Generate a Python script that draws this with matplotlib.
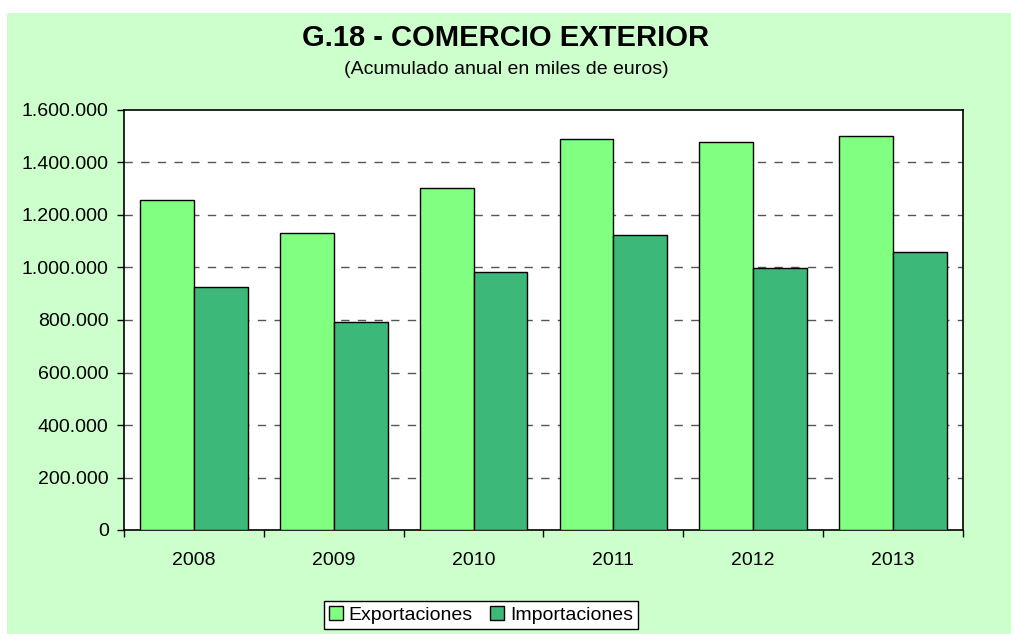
import matplotlib
matplotlib.use('Agg')
import matplotlib.pyplot as plt
from matplotlib.patches import Rectangle
from matplotlib.ticker import FuncFormatter, FixedLocator
import numpy as np

plt.rcParams['font.family'] = ['Liberation Sans', 'DejaVu Sans']

# Data (miles de euros)
years = ['2008', '2009', '2010', '2011', '2012', '2013']
exportaciones = [1257000, 1131000, 1303000, 1491000, 1477000, 1501000]
importaciones = [926000, 792000, 983000, 1124000, 999000, 1058000]

fig = plt.figure(figsize=(10.12, 6.34), dpi=100)
fig.patch.set_facecolor('white')

# Light green panel background
fig.patches.append(Rectangle((7 / 1012, 0), 1 - 7 / 1012, 1 - 13 / 634,
                             transform=fig.transFigure, facecolor='#CCFFCC',
                             edgecolor='none', zorder=-10))

ax = fig.add_axes([124 / 1012, 104 / 634, 839 / 1012, 420 / 634])
ax.set_facecolor('white')

x = np.arange(len(years)) + 0.5
w = 0.385
ax.bar(x - w / 2, exportaciones, width=w, color='#80FF80', edgecolor='black',
       linewidth=1, label='Exportaciones', zorder=3)
ax.bar(x + w / 2, importaciones, width=w, color='#3CB878', edgecolor='black',
       linewidth=1, label='Importaciones', zorder=3)

ax.set_xlim(0, len(years))
ax.set_ylim(0, 1600000)

# Y axis
ax.set_yticks(np.arange(0, 1600001, 200000))
ax.yaxis.set_major_formatter(FuncFormatter(lambda v, p: f'{int(v):,}'.replace(',', '.')))
ax.tick_params(axis='y', direction='out', length=5, width=1, labelsize=14, pad=6)

# X axis: ticks at boundaries, labels at centers
ax.xaxis.set_major_locator(FixedLocator(np.arange(0, len(years) + 1)))
ax.xaxis.set_major_formatter(FuncFormatter(lambda v, p: ''))
ax.set_xticks(x, minor=True)
ax.set_xticklabels(years, minor=True)
ax.tick_params(axis='x', which='major', direction='out', length=5, width=1)
ax.tick_params(axis='x', which='minor', length=0, labelsize=14, pad=16)

# Grid
for v in np.arange(200000, 1600000, 200000):
    ax.axhline(v, color='#555555', linewidth=1, linestyle=(0, (6, 6)), zorder=1)

for spine in ax.spines.values():
    spine.set_color('black')
    spine.set_linewidth(1.2)

# Titles
fig.text(0.5, 1 - 38 / 634, 'G.18 - COMERCIO EXTERIOR', ha='center', va='center',
         fontsize=21, fontweight='bold')
fig.text(0.5, 1 - 70 / 634, '(Acumulado anual en miles de euros)', ha='center',
         va='center', fontsize=14)

leg = fig.legend(loc='center', bbox_to_anchor=(481 / 1012, 1 - 615 / 634), ncol=2,
                 fontsize=14, frameon=True, fancybox=False, framealpha=1,
                 edgecolor='black', handlelength=0.7, handleheight=0.7,
                 handletextpad=0.3, columnspacing=0.9, borderpad=0.25,
                 borderaxespad=0)
leg.get_frame().set_linewidth(1)

plt.savefig('out.png', dpi=100)
plt.close(fig)
